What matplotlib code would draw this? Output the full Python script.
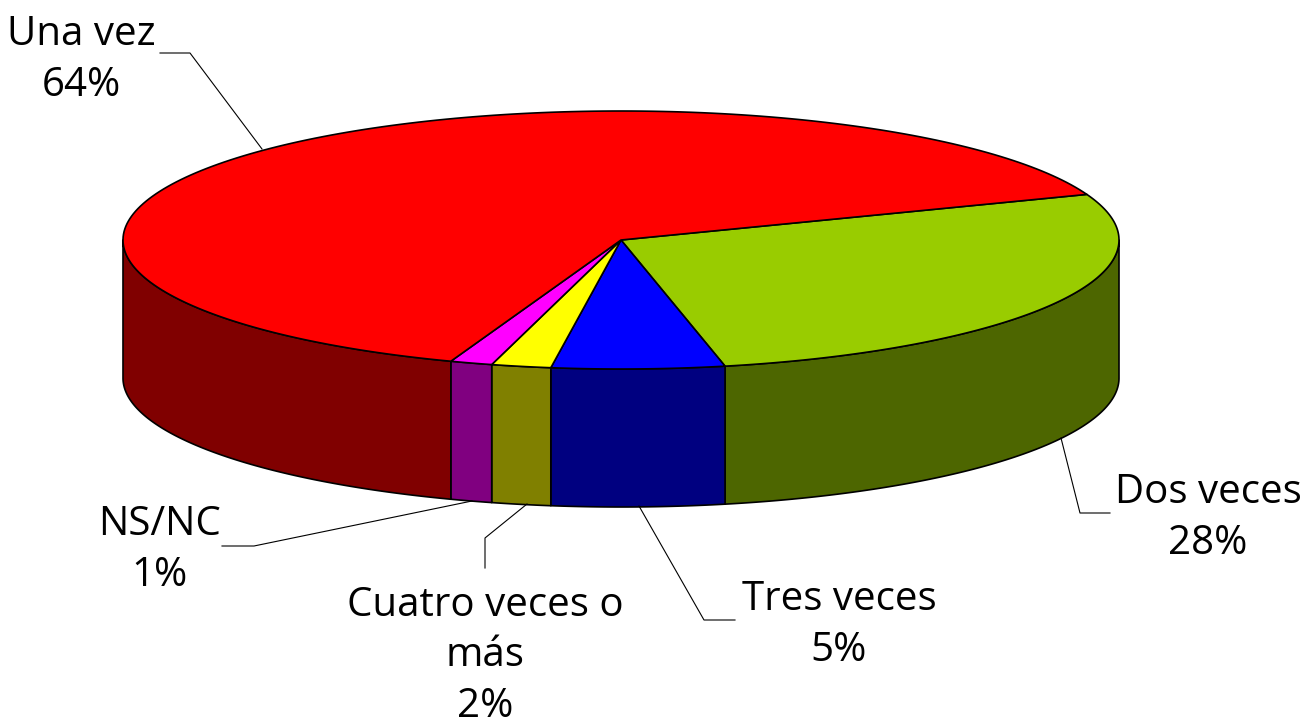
import numpy as np
import matplotlib
matplotlib.use("Agg")
import matplotlib.pyplot as plt
from matplotlib.patches import Polygon

categories = ["Una vez", "Dos veces", "Tres veces", "Cuatro veces o\nmás", "NS/NC"]
shown = ["64%", "28%", "5%", "2%", "1%"]
values = [63.7, 27.4, 5.6, 1.93, 1.37]
top_colors = ["#FF0000", "#99CC00", "#0000FF", "#FFFF00", "#FF00FF"]
side_colors = ["#800000", "#4D6600", "#000080", "#808000", "#800080"]

# label position (centre of text block) and leader line, in pixels
label_pos = [(81, 60), (1208, 518), (839, 625), (485, 656), (159, 550)]
leaders = [
    [(160, 53), (190, 53), (262, 149)],
    [(1110, 513), (1080, 513), (1061, 438)],
    [(735, 620), (704, 620), (639, 506)],
    [(485, 568), (485, 538), (527, 504)],
    [(222, 546), (254, 546), (472, 501)],
]

cx, cy, rx, ry, depth = 621, 240, 498, 129, 138
start_angle = 20.7

plt.rcParams['font.family'] = ['Open Sans', 'DejaVu Sans']

fig = plt.figure(figsize=(13.05, 7.25), dpi=100)
ax = fig.add_axes([0, 0, 1, 1])
ax.set_xlim(0, 1305)
ax.set_ylim(725, 0)
ax.axis('off')


def rim(a0, a1, n=200):
    t = np.radians(np.linspace(a0, a1, n))
    return cx + rx * np.cos(t), cy - ry * np.sin(t)


# wedges run clockwise from the start angle for green onwards, red last
order = [1, 2, 3, 4, 0]
edges = {}
a = start_angle
for i in order:
    sweep = values[i] / sum(values) * 360
    edges[i] = (a - sweep, a)
    a -= sweep

# sides first
for i in order:
    a0, a1 = edges[i]
    # visible wall is the front half of the ellipse, -180..0
    for shift in (0, -360):
        lo, hi = max(a0 - shift, -180), min(a1 - shift, 0)
        if lo < hi:
            x, y = rim(lo, hi)
            pts = np.r_[np.c_[x, y], np.c_[x, y + depth][::-1]]
            ax.add_patch(Polygon(pts, closed=True, fc=side_colors[i], ec="black", lw=1.2, joinstyle="round"))

# top faces
for i in order:
    a0, a1 = edges[i]
    x, y = rim(a0, a1)
    pts = np.r_[[(cx, cy)], np.c_[x, y]]
    ax.add_patch(Polygon(pts, closed=True, fc=top_colors[i], ec="black", lw=1.2, joinstyle="round"))

for line in leaders:
    xs, ys = zip(*line)
    ax.plot(xs, ys, color="black", lw=0.8)

for name, pct, pos in zip(categories, shown, label_pos):
    ax.text(pos[0], pos[1], name + "\n" + pct, ha="center", va="center", fontsize=29,
            color="black", linespacing=1.33)

fig.savefig("out.png", dpi=100)
